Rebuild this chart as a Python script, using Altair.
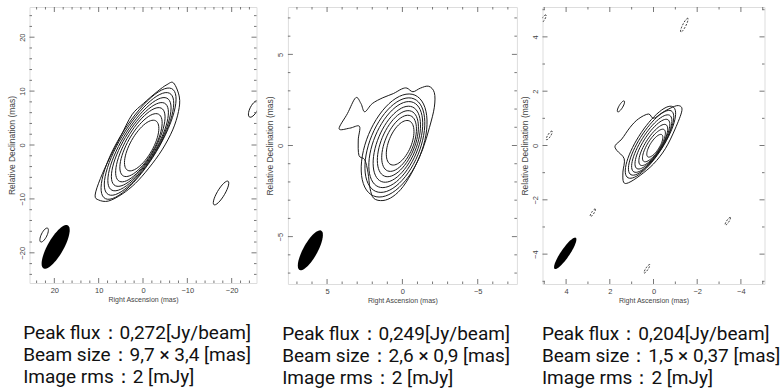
import math
import numpy as np
import pandas as pd
import altair as alt

# ---------------------------------------------------------------- panel 1
P1_XDOM = [25.6, -25.6]
P1_YDOM = [-25.6, 25.6]
P1_MAJOR = [-20, -10, 0, 10, 20]
P1_MINOR = [-24, -22, -18, -16, -14, -12, -8, -6, -4, -2, 2, 4, 6, 8, 12, 14, 16, 18, 22, 24]
# outermost (irregular) contour, RA / Dec in mas
P1_OUT_RA = [-6.9, -8.2, -8.0, -6.7, -4.3, -1.3, 1.7, 4.7, 7.8, 10.0, 10.8, 9.6, 7.4, 5.1, 2.5, -0.1, -3.2, -5.4]
P1_OUT_DEC = [11.5, 8.9, 6.2, 2.8, -0.9, -4.3, -7.1, -9.1, -10.4, -10.2, -9.3, -6.2, -2.2, 1.5, 5.6, 7.7, 9.9, 11.2]
# inner contours as ellipses: centre, semi-axes, position angle
P1_C_RA = [0.3, 0.45, 0.6, 0.7, 0.8, 0.9, 1.0]
P1_C_DEC = [-0.1, -0.02, 0.05, 0.1, 0.15, 0.2, 0.25]
P1_C_A = [5.6, 7.0, 8.3, 9.5, 10.6, 11.7, 12.7]
P1_C_B = [2.4, 2.8, 3.1, 3.4, 3.65, 3.9, 4.1]
P1_C_PA = [-37, -37, -37, -38, -38, -38, -38]
# isolated small contours
P1_S_RA = [-25.0, -17.6, 22.3]
P1_S_DEC = [6.7, -8.9, -16.7]
P1_S_A = [1.8, 2.7, 1.5]
P1_S_B = [0.8, 0.8, 0.6]
P1_S_PA = [-35, -37, -33]
# restoring beam
P1_BEAM = [19.7, -18.9, 9.7, 3.4, -36]
P1_TEXT = ["Peak flux：0,272[Jy/beam]", "Beam size：9,7 × 3,4 [mas]", "Image rms：2 [mJy]"]

# ---------------------------------------------------------------- panel 2
P2_XDOM = [7.6, -7.6]
P2_YDOM = [-7.6, 7.6]
P2_MAJOR = [-5, 0, 5]
P2_MINOR = [-7, -6, -4, -3, -2, -1, 1, 2, 3, 4, 6, 7]
P2_OUT_RA = [4.2, 3.65, 3.1, 2.75, 2.5, 2.0, 1.3, 0.6, 0.05, -0.3, -0.7, -1.2, -1.75, -2.12, -2.12,
             -1.8, -1.35, -0.75, -0.05, 0.63, 1.29, 1.9, 2.15, 2.28, 2.5, 2.88, 2.93, 2.85, 3.5]
P2_OUT_DEC = [0.92, 1.75, 2.62, 2.3, 1.85, 2.3, 2.62, 2.85, 3.1, 3.15, 2.95, 3.15, 3.25, 2.9, 2.1,
              1.0, -0.2, -1.3, -2.25, -2.8, -3.02, -2.9, -2.35, -1.5, -0.78, -0.55, 0.3, 1.05, 0.95]
P2_C_RA = [0.15, 0.22, 0.3, 0.37, 0.44, 0.5, 0.55]
P2_C_DEC = [0.15, 0.12, 0.1, 0.07, 0.05, 0.02, 0.0]
P2_C_A = [1.35, 1.7, 2.0, 2.3, 2.6, 2.85, 3.1]
P2_C_B = [0.72, 0.9, 1.07, 1.24, 1.42, 1.6, 1.78]
P2_C_PA = [-30, -30, -30, -30, -30, -30, -30]
P2_S_RA = []
P2_S_DEC = []
P2_S_A = []
P2_S_B = []
P2_S_PA = []
P2_BEAM = [6.11, -5.75, 2.6, 0.9, -35]
P2_TEXT = ["Peak flux：0,249[Jy/beam]", "Beam size：2,6 × 0,9 [mas]", "Image rms：2 [mJy]"]

# ---------------------------------------------------------------- panel 3
P3_XDOM = [5.08, -5.08]
P3_YDOM = [-5.1, 5.1]
P3_MAJOR = [-4, -2, 0, 2, 4]
P3_MINOR = [-5, -3, -1, 1, 3, 5]
P3_OUT_RA = [-1.14, -1.3, -0.99, -0.54, 0.0, 0.61, 1.14, 1.37, 1.4, 1.34, 1.68, 1.75, 1.45, 1.07, 0.69,
             0.23, 0.0, -0.38, -0.76]
P3_OUT_DEC = [1.47, 1.29, 0.61, -0.12, -0.68, -1.1, -1.37, -1.35, -0.98, -0.49, -0.18, 0.0, 0.24, 0.67,
              0.98, 1.16, 1.0, 1.2, 1.37]
P3_C_RA = [-0.06, -0.02, 0.01, 0.05, 0.08, 0.11, 0.14]
P3_C_DEC = [-0.01, 0.0, 0.02, 0.05, 0.07, 0.1, 0.12]
P3_C_A = [0.52, 0.75, 0.95, 1.15, 1.33, 1.5, 1.67]
P3_C_B = [0.2, 0.27, 0.33, 0.39, 0.45, 0.5, 0.55]
P3_C_PA = [-40, -40, -40, -40, -40, -40, -40]
P3_S_RA = [1.49]
P3_S_DEC = [1.44]
P3_S_A = [0.25]
P3_S_B = [0.08]
P3_S_PA = [-38]
# negative (dashed) contours
P3_N_RA = [-1.41, 4.77, 5.05, 2.78, 0.3, -3.4]
P3_N_DEC = [4.43, 0.37, 4.65, -2.48, -4.54, -2.79]
P3_N_A = [0.3, 0.2, 0.2, 0.18, 0.2, 0.18]
P3_N_B = [0.07, 0.06, 0.06, 0.05, 0.05, 0.05]
P3_N_PA = [-33, -40, -40, -40, -40, -40]
P3_BEAM = [4.04, -3.97, 1.5, 0.37, -41]
P3_TEXT = ["Peak flux：0,204[Jy/beam]", "Beam size：1,5 × 0,37 [mas]", "Image rms：2 [mJy]"]

AXIS_FONT = "Liberation Sans"
TEXT_FONT = "Roboto"
LINE_COLOR = "#1a1a1a"


def ellipse_rows(cid, cx, cy, a, b, pa, n=60):
    rows = []
    p = math.radians(pa)
    for i in range(n):
        t = 2 * math.pi * i / n
        u, v = a * math.cos(t), b * math.sin(t)
        rows.append({"cid": cid, "i": i,
                     "ra": cx + u * math.sin(p) + v * math.cos(p),
                     "dec": cy + u * math.cos(p) - v * math.sin(p)})
    return rows


def make_panel(xdom, ydom, major, minor, out_ra, out_dec, cra, cdec, ca, cb, cpa,
               sra, sdec, sa, sb, spa, beam, text, W, H, text_dx,
               nra=(), ndec=(), na=(), nb=(), npa=()):
    xs = alt.Scale(domain=xdom, nice=False, zero=False)
    ys = alt.Scale(domain=ydom, nice=False, zero=False)
    xaxis = alt.Axis(values=major, ticks=False, tickSize=0, domain=False, grid=False,
                     labelFont=AXIS_FONT, labelFontSize=7.5, labelColor="#444", labelPadding=3,
                     title="Right Ascension  (mas)", titleFont=AXIS_FONT, titleFontSize=7,
                     titleFontWeight="normal", titleColor="#444", titlePadding=2)
    yaxis = alt.Axis(values=major, ticks=False, tickSize=0, domain=False, grid=False,
                     labelFont=AXIS_FONT, labelFontSize=7.5, labelColor="#444", labelPadding=3,
                     labelAngle=270, labelAlign="center", labelBaseline="bottom",
                     minExtent=11, maxExtent=11,
                     title="Relative Declination  (mas)", titleFont=AXIS_FONT, titleFontSize=8.5,
                     titleFontWeight="normal", titleColor="#444", titlePadding=2.5)

    def X(f):
        return alt.X(f, type="quantitative", scale=xs, axis=xaxis)

    def Y(f):
        return alt.Y(f, type="quantitative", scale=ys, axis=yaxis)

    # inner elliptical contours + isolated ones
    rows = []
    for k in range(len(cra)):
        rows += ellipse_rows("c%d" % k, cra[k], cdec[k], ca[k], cb[k], cpa[k])
    for k in range(len(sra)):
        rows += ellipse_rows("s%d" % k, sra[k], sdec[k], sa[k], sb[k], spa[k], n=30)
    ell_df = pd.DataFrame(rows)
    out_df = pd.DataFrame({"cid": "outer", "i": list(range(len(out_ra))), "ra": out_ra, "dec": out_dec})
    beam_df = pd.DataFrame(ellipse_rows("beam", beam[0], beam[1], beam[2] / 2, beam[3] / 2, beam[4]))

    layers = []
    layers.append(alt.Chart(out_df).mark_line(interpolate="cardinal-closed", color=LINE_COLOR,
                                               strokeWidth=1, clip=True).encode(
        x=X("ra:Q"), y=Y("dec:Q"), detail="cid:N", order="i:Q"))
    layers.append(alt.Chart(ell_df).mark_line(interpolate="linear-closed", color=LINE_COLOR,
                                               strokeWidth=1, clip=True).encode(
        x=X("ra:Q"), y=Y("dec:Q"), detail="cid:N", order="i:Q"))
    if len(nra):
        nrows = []
        for k in range(len(nra)):
            nrows += ellipse_rows("n%d" % k, nra[k], ndec[k], na[k], nb[k], npa[k], n=30)
        layers.append(alt.Chart(pd.DataFrame(nrows)).mark_line(
            interpolate="linear-closed", color=LINE_COLOR, strokeWidth=0.9, strokeDash=[2, 1.5],
            clip=True).encode(x=X("ra:Q"), y=Y("dec:Q"), detail="cid:N", order="i:Q"))
    layers.append(alt.Chart(beam_df).mark_line(interpolate="linear-closed", filled=True,
                                                color="black", clip=True).encode(
        x=X("ra:Q"), y=Y("dec:Q"), detail="cid:N", order="i:Q"))

    # inward ticks on all four sides
    tick_color = "#555"
    for vals, ln in ((major, 5), (minor, 2.5)):
        tdf = pd.DataFrame({"v": vals})
        layers.append(alt.Chart(tdf).mark_rule(color=tick_color, strokeWidth=0.8).encode(
            x=X("v:Q"), y=alt.value(H), y2=alt.value(H - ln)))
        layers.append(alt.Chart(tdf).mark_rule(color=tick_color, strokeWidth=0.8).encode(
            x=X("v:Q"), y=alt.value(0), y2=alt.value(ln)))
        layers.append(alt.Chart(tdf).mark_rule(color=tick_color, strokeWidth=0.8).encode(
            y=Y("v:Q"), x=alt.value(0), x2=alt.value(ln)))
        layers.append(alt.Chart(tdf).mark_rule(color=tick_color, strokeWidth=0.8).encode(
            y=Y("v:Q"), x=alt.value(W), x2=alt.value(W - ln)))

    # caption lines below the map
    for j, line in enumerate(text):
        layers.append(alt.Chart(pd.DataFrame({"t": [line]})).mark_text(
            align="left", baseline="alphabetic", font=TEXT_FONT, fontSize=19, color="#111").encode(
            text="t:N", x=alt.value(text_dx), y=alt.value(H + 56.3 + 21.7 * j)))

    return alt.layer(*layers).properties(width=W, height=H)


p1 = make_panel(P1_XDOM, P1_YDOM, P1_MAJOR, P1_MINOR, P1_OUT_RA, P1_OUT_DEC,
                P1_C_RA, P1_C_DEC, P1_C_A, P1_C_B, P1_C_PA,
                P1_S_RA, P1_S_DEC, P1_S_A, P1_S_B, P1_S_PA, P1_BEAM, P1_TEXT, 227, 276, -6.3)
p2 = make_panel(P2_XDOM, P2_YDOM, P2_MAJOR, P2_MINOR, P2_OUT_RA, P2_OUT_DEC,
                P2_C_RA, P2_C_DEC, P2_C_A, P2_C_B, P2_C_PA,
                P2_S_RA, P2_S_DEC, P2_S_A, P2_S_B, P2_S_PA, P2_BEAM, P2_TEXT, 229, 277, -5.7)
p3 = make_panel(P3_XDOM, P3_YDOM, P3_MAJOR, P3_MINOR, P3_OUT_RA, P3_OUT_DEC,
                P3_C_RA, P3_C_DEC, P3_C_A, P3_C_B, P3_C_PA,
                P3_S_RA, P3_S_DEC, P3_S_A, P3_S_B, P3_S_PA, P3_BEAM, P3_TEXT, 222, 277, -0.6,
                P3_N_RA, P3_N_DEC, P3_N_A, P3_N_B, P3_N_PA)

inner = alt.HConcatChart(hconcat=[p2, p3], spacing=25.6, bounds="flush")
chart = alt.HConcatChart(hconcat=[p1, inner], spacing=31.4, bounds="flush").properties(
    padding={"left": 6.5, "top": 6, "right": 0, "bottom": 0}
).configure_view(stroke="#555", strokeWidth=1).configure(background="white")

chart.save("out.html", embed_options={"renderer": "svg", "actions": False})
